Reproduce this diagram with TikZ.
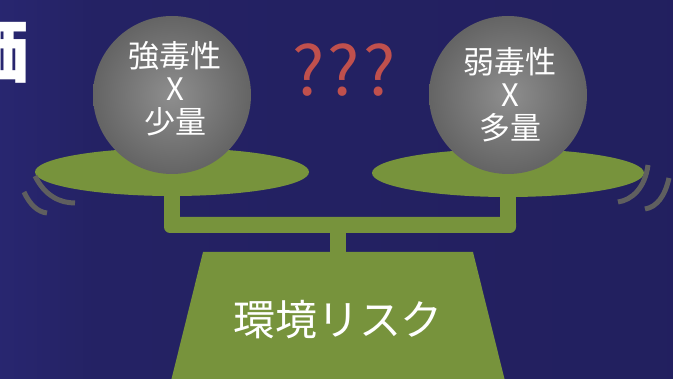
\documentclass[tikz,border=0pt]{standalone}
\usepackage{fontspec}
\newfontfamily\cjk{Noto Sans CJK JP}
\usetikzlibrary{shadings}
\definecolor{bgA}{HTML}{2B2978}
\definecolor{bgB}{HTML}{242264}
\definecolor{bgC}{HTML}{211E5C}
\definecolor{olive}{HTML}{77933C}
\definecolor{ballLight}{HTML}{8E8E8E}
\definecolor{ballDark}{HTML}{3A3A3A}
\definecolor{qred}{HTML}{C0504D}
\definecolor{swing}{HTML}{5F5F5F}
\pgfdeclarehorizontalshading{backdrop}{100bp}{color(0bp)=(bgA); color(20bp)=(bgA); color(32bp)=(bgB); color(100bp)=(bgC)}
\pgfdeclareradialshading{ball}{\pgfpoint{0bp}{0bp}}{color(0bp)=(ballLight); color(50bp)=(ballDark)}
\tikzset{
  part/.style={fill=olive},
  weight/.style={circle, minimum size=158pt, inner sep=0pt, shading=ball},
  balltext/.style={font=\cjk\fontsize{31}{33}\selectfont, text=white, align=center, inner sep=0pt},
  swingmark/.style={draw=swing, line width=5pt},
}
\begin{document}
\begin{tikzpicture}[x=1pt,y=-1pt]
  \useasboundingbox (0,0) rectangle (673,379);
  \shade[shading=backdrop] (0,0) rectangle (673,379);

  % heading character, mostly beyond the left edge
  \node[font=\cjk\bfseries\fontsize{74}{80}\selectfont, text=white, anchor=east, inner sep=0pt] (head) at (30,50) {価};

  % beam of the balance
  \fill[part, rounded corners=6pt] (164,217) rectangle (516,233);
  \fill[part] (164,180) rectangle (180,224);
  \fill[part] (500,180) rectangle (516,224);
  \fill[part] (330,228) rectangle (346,254);
  \fill[part] (203,252) -- (473,252) -- (506,385) -- (170,385) -- cycle;

  % pans
  \fill[part] (172,172) ellipse [x radius=137, y radius=24];
  \fill[part] (508,173) ellipse [x radius=136, y radius=24];

  % weights
  \node[weight] (left) at (172,95) {};
  \node[weight] (right) at (508,95) {};
  \node[balltext] (lefttext) at (175,89) {強毒性\\X\\少量};
  \node[balltext] (righttext) at (510,95) {弱毒性\\X\\多量};

  % question marks
  \node[font=\cjk\fontsize{68}{70}\selectfont, text=qred, inner sep=0pt] (q) at (344,70) {?\kern3pt?\kern3pt?};

  % base label
  \node[font=\cjk\fontsize{42}{46}\selectfont, text=white, inner sep=0pt] (base) at (338,320) {環境リスク};

  % swing marks
  \draw[swingmark] (35,176) .. controls (45,196) and (60,203) .. (75,203);
  \draw[swingmark] (24,192) .. controls (30,205) and (38,212) .. (47,213);
  \draw[swingmark] (648,165) .. controls (645,188) and (632,200) .. (618,202);
  \draw[swingmark] (669,178) .. controls (665,196) and (657,207) .. (645,209);
\end{tikzpicture}
\end{document}
